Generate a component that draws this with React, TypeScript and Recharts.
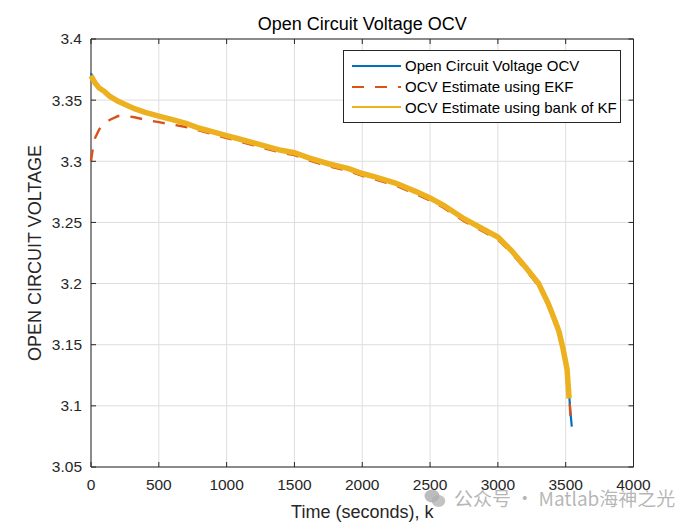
import {
  CartesianGrid,
  Legend,
  Line,
  LineChart,
  ReferenceArea,
  XAxis,
  YAxis,
} from "recharts";

const W = 700;
const H = 525;
const PLOT = { left: 91, top: 39, right: 633.5, bottom: 467 };
const AXIS = "#262626";
const GRID = "#dedede";
const FONT = '"Liberation Sans", Arial, Helvetica, sans-serif';

// sample times (s)
const TIME = [
  0, 10, 30, 60, 100, 140, 200, 260, 320, 400, 500, 600, 700, 800, 900,
  1000, 1100, 1200, 1300, 1400, 1500, 1600, 1750, 1900, 2000, 2100, 2250,
  2400, 2500, 2600, 2750, 2900, 3000, 3100, 3200, 3300, 3370, 3420, 3450,
  3480, 3510, 3525, 3535, 3545,
];

// true open circuit voltage
const OCV = [
  3.372, 3.369, 3.366, 3.361, 3.357, 3.353, 3.349, 3.346, 3.343, 3.340,
  3.337, 3.334, 3.331, 3.327, 3.324, 3.321, 3.318, 3.315, 3.312, 3.309,
  3.307, 3.303, 3.298, 3.294, 3.290, 3.287, 3.282, 3.275, 3.270, 3.264,
  3.253, 3.244, 3.238, 3.227, 3.214, 3.200, 3.184, 3.170, 3.161, 3.147,
  3.130, 3.110, 3.095, 3.083,
];

// extended Kalman filter estimate
const OCV_EKF = [
  3.300, 3.308, 3.319, 3.326, 3.331, 3.334, 3.337, 3.337, 3.336, 3.334,
  3.332, 3.330, 3.328, 3.325, 3.322, 3.319, 3.316, 3.313, 3.310, 3.307,
  3.305, 3.301, 3.296, 3.292, 3.288, 3.285, 3.280, 3.273, 3.268, 3.262,
  3.251, 3.242, 3.236, 3.225, 3.212, 3.198, 3.182, 3.167, 3.158, 3.144,
  3.127, 3.112, 3.091, null,
];

// bank of Kalman filters estimate
const OCV_BANK_KF = [
  3.370, 3.368, 3.364, 3.360, 3.357, 3.353, 3.349, 3.346, 3.343, 3.340,
  3.337, 3.334, 3.331, 3.327, 3.324, 3.321, 3.318, 3.315, 3.312, 3.309,
  3.307, 3.303, 3.298, 3.294, 3.290, 3.287, 3.282, 3.275, 3.270, 3.264,
  3.253, 3.244, 3.238, 3.227, 3.214, 3.200, 3.184, 3.170, 3.161, 3.147,
  3.130, 3.106, null, null,
];

const X_TICKS = [0, 500, 1000, 1500, 2000, 2500, 3000, 3500, 4000];
const Y_TICKS = [3.05, 3.1, 3.15, 3.2, 3.25, 3.3, 3.35, 3.4];

const SERIES = [
  { key: "ocv", name: "Open Circuit Voltage OCV", color: "#0072BD", width: 2.2, dash: undefined },
  { key: "ekf", name: "OCV Estimate using EKF", color: "#D95319", width: 2.4, dash: "12 11" },
  { key: "bank", name: "OCV Estimate using bank of KF", color: "#EDB120", width: 5.5, dash: undefined },
];

const data = TIME.map((t, i) => ({
  t,
  ocv: OCV[i],
  ekf: OCV_EKF[i],
  bank: OCV_BANK_KF[i],
}));

const fmt = (v: number) => String(+v.toFixed(2));

// ticks point inward (MATLAB box style), mirrored on the opposite side
const renderXTick = ({ x, payload }: any) => (
  <g key={`xt-${payload.value}`}>
    <line x1={x} x2={x} y1={PLOT.bottom} y2={PLOT.bottom - 5} stroke={AXIS} />
    <line x1={x} x2={x} y1={PLOT.top} y2={PLOT.top + 5} stroke={AXIS} />
    <text
      x={x}
      y={PLOT.bottom + 18}
      dy="0.35em"
      textAnchor="middle"
      fill={AXIS}
      fontSize={15.5}
      fontFamily={FONT}
    >
      {fmt(payload.value)}
    </text>
  </g>
);

const renderYTick = ({ y, payload }: any) => (
  <g key={`yt-${payload.value}`}>
    <line x1={PLOT.left} x2={PLOT.left + 5} y1={y} y2={y} stroke={AXIS} />
    <line x1={PLOT.right} x2={PLOT.right - 5} y1={y} y2={y} stroke={AXIS} />
    <text
      x={PLOT.left - 9}
      y={y}
      dy="0.35em"
      textAnchor="end"
      fill={AXIS}
      fontSize={15.5}
      fontFamily={FONT}
    >
      {fmt(payload.value)}
    </text>
  </g>
);

const renderYLabel = ({ viewBox }: any) => {
  const cx = 35;
  const cy = viewBox.y + viewBox.height / 2;
  return (
    <text
      x={cx}
      y={cy}
      dy="0.35em"
      textAnchor="middle"
      transform={`rotate(-90 ${cx} ${cy})`}
      fill={AXIS}
      fontSize={18}
      fontFamily={FONT}
    >
      OPEN CIRCUIT VOLTAGE
    </text>
  );
};

function LegendBox() {
  return (
    <div
      style={{
        width: 278,
        height: 73,
        boxSizing: "border-box",
        border: `1px solid ${AXIS}`,
        background: "#fff",
        padding: "4.5px 0",
        fontFamily: FONT,
        fontSize: 15,
        color: "#000",
      }}
    >
      {SERIES.map((s) => (
        <div key={s.key} style={{ display: "flex", alignItems: "center", height: 20.8 }}>
          <svg width={61} height={10} style={{ flex: "none" }}>
            <line
              x1={8}
              x2={57}
              y1={5}
              y2={5}
              stroke={s.color}
              strokeWidth={2.2}
              strokeDasharray={s.dash}
            />
          </svg>
          <span style={{ whiteSpace: "nowrap" }}>{s.name}</span>
        </div>
      ))}
    </div>
  );
}

function Watermark() {
  return (
    <div
      style={{
        position: "absolute",
        left: 424,
        top: 484,
        display: "flex",
        alignItems: "center",
        color: "rgba(150,150,150,0.7)",
        fontFamily: '"Noto Sans CJK SC", "Noto Sans", sans-serif',
        fontSize: 19,
        pointerEvents: "none",
      }}
    >
      <svg width={22} height={20} style={{ marginRight: 8 }}>
        <ellipse cx={8} cy={8} rx={7.5} ry={6.5} fill="rgba(160,160,160,0.7)" />
        <ellipse cx={14.5} cy={13} rx={6.8} ry={6} fill="rgba(175,175,175,0.75)" />
      </svg>
      <span>公众号 · Matlab海神之光</span>
    </div>
  );
}

export default function App() {
  return (
    <div
      style={{
        position: "fixed",
        left: 0,
        top: 0,
        width: W,
        height: H,
        background: "#fff",
      }}
    >
      <div
        style={{
          position: "absolute",
          left: PLOT.left,
          width: PLOT.right - PLOT.left,
          top: 14,
          textAlign: "center",
          fontFamily: FONT,
          fontSize: 18,
          color: "#000",
        }}
      >
        Open Circuit Voltage OCV
      </div>
      <LineChart
        width={W}
        height={H}
        data={data}
        margin={{ top: PLOT.top, left: 0, right: W - PLOT.right, bottom: 0 }}
      >
        <CartesianGrid stroke={GRID} strokeWidth={1} />
        <XAxis
          dataKey="t"
          type="number"
          domain={[0, 4000]}
          ticks={X_TICKS}
          interval={0}
          height={H - PLOT.bottom}
          axisLine={false}
          tickLine={false}
          tick={renderXTick}
          label={{
            value: "Time (seconds), k",
            position: "insideBottom",
            offset: 7,
            fill: AXIS,
            fontSize: 18,
            fontFamily: FONT,
          }}
        />
        <YAxis
          type="number"
          domain={[3.05, 3.4]}
          ticks={Y_TICKS}
          interval={0}
          width={PLOT.left}
          axisLine={false}
          tickLine={false}
          tick={renderYTick}
          label={{ content: renderYLabel }}
        />
        {SERIES.map((s) => (
          <Line
            key={s.key}
            dataKey={s.key}
            name={s.name}
            type="linear"
            stroke={s.color}
            strokeWidth={s.width}
            strokeDasharray={s.dash}
            strokeLinejoin="miter"
            dot={false}
            activeDot={false}
            isAnimationActive={false}
          />
        ))}
        <ReferenceArea
          x1={0}
          x2={4000}
          y1={3.05}
          y2={3.4}
          fill="none"
          fillOpacity={0}
          stroke={AXIS}
          strokeWidth={1}
          ifOverflow="visible"
        />
        <Legend
          layout="vertical"
          align="center"
          verticalAlign="middle"
          content={<LegendBox />}
          wrapperStyle={{ left: 343, top: 50, width: 278, height: 73 }}
        />
      </LineChart>
      <Watermark />
    </div>
  );
}
